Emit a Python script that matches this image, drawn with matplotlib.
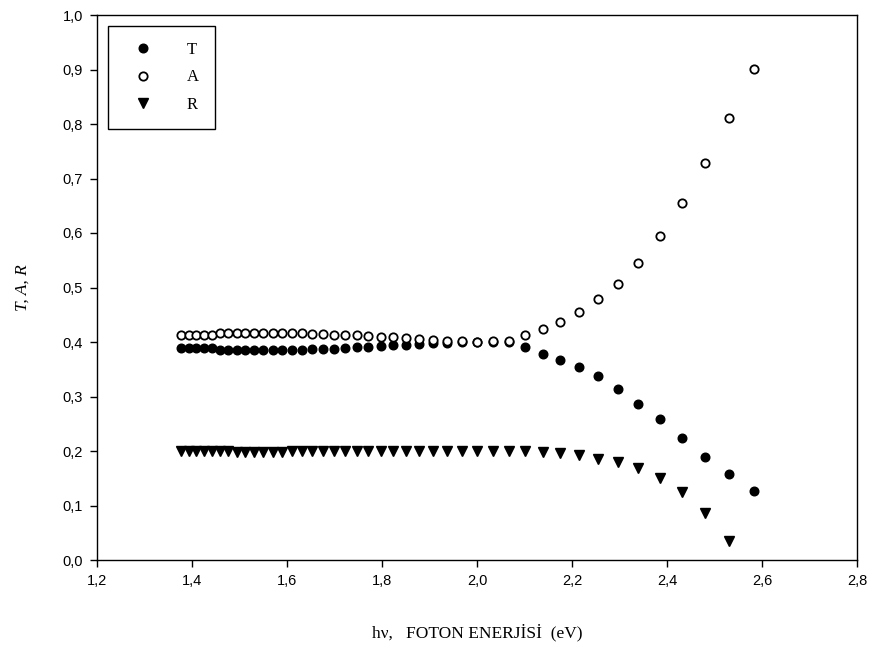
import numpy as np
import matplotlib
matplotlib.use("Agg")
from matplotlib import pyplot as plt
from matplotlib.ticker import FuncFormatter

## wavelengths (nm) of the measurements, photon energy hv = 1240 / lambda
wavelength = [900, 890, 880, 870, 860, 850, 840, 830, 820, 810,
              800, 790, 780, 770, 760, 750, 740, 730, 720, 710,
              700, 690, 680, 670, 660, 650, 640, 630, 620, 610,
              600, 590, 580, 570, 560, 550, 540, 530, 520, 510,
              500, 490, 480]

## transmission
T = [0.389, 0.389, 0.389, 0.389, 0.389, 0.386, 0.386, 0.386, 0.386, 0.386,
     0.386, 0.386, 0.386, 0.386, 0.386, 0.387, 0.387, 0.388, 0.389, 0.390,
     0.391, 0.393, 0.394, 0.395, 0.396, 0.398, 0.399, 0.400, 0.400, 0.400,
     0.400, 0.391, 0.378, 0.367, 0.354, 0.338, 0.314, 0.286, 0.259, 0.224,
     0.189, 0.158, 0.127]

## absorption
A = [0.413, 0.413, 0.413, 0.413, 0.413, 0.416, 0.416, 0.416, 0.416, 0.416,
     0.416, 0.416, 0.416, 0.416, 0.416, 0.415, 0.414, 0.413, 0.413, 0.412,
     0.411, 0.410, 0.409, 0.407, 0.405, 0.403, 0.402, 0.402, 0.400, 0.402,
     0.402, 0.413, 0.424, 0.437, 0.455, 0.479, 0.506, 0.545, 0.594, 0.655,
     0.728, 0.811, 0.901]

## reflection (no point at 480 nm)
R = [0.200, 0.200, 0.200, 0.200, 0.200, 0.200, 0.200, 0.199, 0.199, 0.199,
     0.199, 0.199, 0.199, 0.200, 0.200, 0.200, 0.200, 0.200, 0.200, 0.200,
     0.200, 0.200, 0.200, 0.200, 0.200, 0.200, 0.200, 0.200, 0.200, 0.200,
     0.200, 0.200, 0.199, 0.197, 0.193, 0.185, 0.180, 0.169, 0.150, 0.125,
     0.086, 0.035]

hv = 1240.0 / np.array(wavelength)

fig = plt.figure(figsize=(8.77, 6.52), dpi=100)
ax = fig.add_axes([97 / 877, 1 - 560 / 652, 760 / 877, 545 / 652])

ax.plot(hv, T, "o", color="black", markersize=6.2, label="T")
ax.plot(hv, A, "o", markerfacecolor="white", markeredgecolor="black",
        markeredgewidth=1.3, markersize=6.0, label="A")
ax.plot(hv[:len(R)], R, "v", color="black", markersize=6.8, label="R")

ax.set_xlim(1.2, 2.8)
ax.set_ylim(0.0, 1.0)
ax.set_xticks(np.arange(1.2, 2.81, 0.2))
ax.set_yticks(np.arange(0.0, 1.01, 0.1))
comma = FuncFormatter(lambda v, pos: f"{v:.1f}".replace(".", ","))
ax.xaxis.set_major_formatter(comma)
ax.yaxis.set_major_formatter(comma)
ax.tick_params(direction="out", length=5, width=1, labelsize=10.5, pad=5)
for lab in ax.get_xticklabels() + ax.get_yticklabels():
    lab.set_family("Liberation Sans")
for sp in ax.spines.values():
    sp.set_linewidth(1.0)

ax.set_xlabel("h\u03bd,   FOTON ENERJ\u0130S\u0130  (eV)", family="Liberation Serif",
              fontsize=12.5, labelpad=26)
ax.set_ylabel("T, A, R", family="Liberation Serif", style="italic",
              fontsize=12.5, labelpad=23)

leg = ax.legend(loc="upper left", bbox_to_anchor=(0.014, 0.98),
                borderaxespad=0, fancybox=False, framealpha=1,
                edgecolor="black", handletextpad=1.5, labelspacing=0.7,
                borderpad=0.95, handlelength=2.3,
                prop={"family": "Liberation Serif", "size": 12})
leg.get_frame().set_linewidth(1.0)

fig.savefig("out.png", dpi=100)
